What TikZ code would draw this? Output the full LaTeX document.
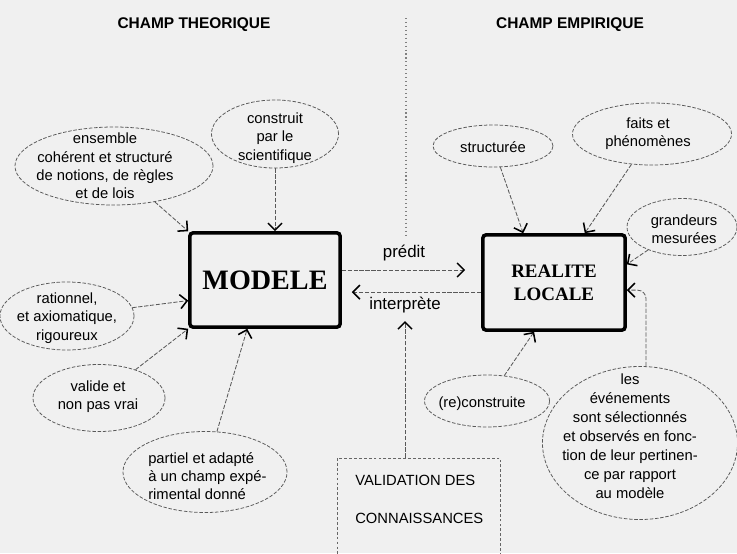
\documentclass[tikz,border=0pt]{standalone}
\usepackage{fontspec}
\setsansfont{Liberation Sans}
\newfontfamily\boxfont{Liberation Serif}
\usetikzlibrary{shapes.geometric,arrows.meta}

\begin{document}
\begin{tikzpicture}[x=0.025cm,y=-0.025cm,
		bubble/.style 2 args={ellipse,draw=black!65,dash pattern=on 2.5pt off 1.2pt,line width=0.55pt,minimum width=#1cm,minimum height=#2cm,inner sep=0pt},
		lbl/.style={font=\sffamily\fontsize{10.5}{13}\selectfont,align=center,inner sep=0pt,text=black},
		bigbox/.style={draw,line width=2.5pt,rounded corners=2pt,inner sep=0pt},
		conn/.style={draw=black!65,dash pattern=on 3pt off 1.2pt,line width=0.6pt,-{Straight Barb[length=5pt,width=10pt,line width=1.1pt,color=black]}},
		title/.style={font=\sffamily\bfseries\fontsize{11}{13}\selectfont,inner sep=0pt}]
		\fill[black!6] (0,0) rectangle (737,553);
		\useasboundingbox (0,0) rectangle (737,553);
		% titres et separation
		\node[title] (theo) at (194,25) {CHAMP THEORIQUE};
		\node[title] (emp) at (570,25) {CHAMP EMPIRIQUE};
		\coordinate (septop) at (406,18);
		\coordinate (sepbot) at (406,238);
		\draw[black!50,dotted,line width=0.8pt] (septop) -- (sepbot);
		% les deux boites
		\node[bigbox,minimum width=3.75cm,minimum height=2.35cm,font=\boxfont\bfseries\fontsize{20}{22}\selectfont] (modele) at (265,280) {MODELE};
		\node[bigbox,minimum width=3.55cm,minimum height=2.375cm,align=center,font=\boxfont\bfseries\fontsize{13.5}{16.5}\selectfont] (realite) at (554,282.5) {REALITE\\LOCALE};
		% champ theorique
		\node[bubble={4.95}{1.95}] (ensemble) at (114,166) {};
		\node[lbl] (ensembleT) at (105,166) {ensemble\\cohérent et structuré\\de notions, de règles\\et de lois};
		\node[bubble={3.175}{1.7}] (construit) at (275,134) {};
		\node[lbl] (construitT) at (275,138) {construit\\par le\\scientifique};
		\node[bubble={3.35}{1.7}] (rationnel) at (67,316) {};
		\node[lbl] (rationnelT) at (67,318) {rationnel,\\et axiomatique,\\rigoureux};
		\node[bubble={3.3}{1.675}] (valide) at (99,398) {};
		\node[lbl] (valideT) at (98,397) {valide et\\non pas vrai};
		\node[bubble={4.1}{2.025}] (partiel) at (205,472) {};
		\node[lbl,align=left,anchor=west] (partielT) at (148,476) {partiel et adapté\\à un champ expé-\\rimental donné};
		% champ empirique
		\node[bubble={3.0}{1.05}] (structuree) at (493,146) {};
		\node[lbl] (structureeT) at (493,147) {structurée};
		\node[bubble={3.975}{1.55}] (faits) at (652,134) {};
		\node[lbl] (faitsT) at (648,134) {faits et\\phénomènes};
		\node[bubble={2.75}{1.425}] (grandeurs) at (682,227) {};
		\node[lbl] (grandeursT) at (684,229) {grandeurs\\mesurées};
		\node[bubble={3.125}{1.3}] (reconstr) at (487,401) {};
		\node[lbl] (reconstrT) at (482,404) {(re)construite};
		\node[bubble={4.875}{3.825}] (events) at (640,443) {};
		\node[lbl,font=\sffamily\fontsize{10.5}{13.5}\selectfont] (eventsT) at (630,436) {les\\événements\\sont sélectionnés\\et observés en fonc-\\tion de leur pertinen-\\ce par rapport\\au modèle};
		% fleches vers les boites
		\draw[conn] (ensemble) -- (modele.north west);
		\draw[conn] (construit) -- (construit |- modele.north);
		\draw[conn] (rationnel) -- (modele.195);
		\draw[conn] (valide) -- (modele.south west);
		\draw[conn] (partiel) -- (modele.250);
		\draw[conn] (structuree) -- (realite.122);
		\draw[conn] (faits) -- (realite.58);
		\draw[conn] (grandeurs) -- (realite.14);
		\draw[conn] (reconstr) -- (realite.248);
		\draw[conn,rounded corners=6pt] ([xshift=0.15cm]events.north) |- (realite.-6);
		% predit / interprete
		\coordinate (pA) at ([yshift=0.25cm]modele.east);
		\coordinate (iA) at ([yshift=-0.24cm]realite.west);
		\draw[conn,shorten >=0.4cm] (pA) -- (pA -| realite.west);
		\draw[conn,shorten >=0.25cm] (iA) -- (iA -| modele.east);
		\node[lbl,font=\sffamily\fontsize{12}{14}\selectfont] (predit) at (404,253) {prédit};
		\node[lbl,font=\sffamily\fontsize{12}{14}\selectfont] (interp) at (405,305) {interprète};
		% validation
		\node[draw=black!60,dash pattern=on 2pt off 1.5pt,line width=0.55pt,minimum width=4.075cm,minimum height=2.8cm,inner sep=0pt] (valid) at (418.5,514) {};
		\node[lbl,align=left,anchor=west,font=\sffamily\fontsize{10.5}{27}\selectfont] (validT) at (355,499) {VALIDATION DES\\CONNAISSANCES};
		\coordinate (vtip) at (405,321);
		\draw[conn] (valid.north -| vtip) -- (vtip);
	\end{tikzpicture}
\end{document}
